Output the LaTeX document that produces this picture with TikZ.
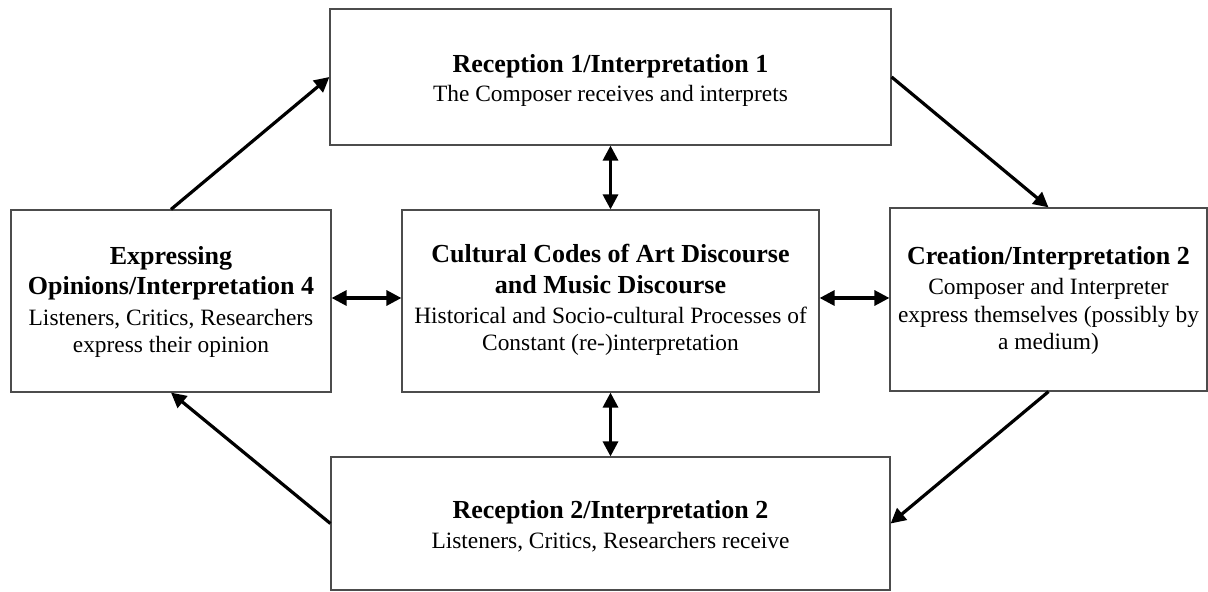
\documentclass[tikz,border=0pt]{standalone}
\usepackage{fontspec}
\setmainfont{Liberation Serif}
\usetikzlibrary{arrows.meta,calc}
% headings are set larger and bold, the descriptions smaller
\newcommand{\hd}[1]{{\fontsize{13}{15}\selectfont\bfseries #1}}
\begin{document}
\begin{tikzpicture}[x=0.5pt,y=-0.5pt,
  stage/.style={draw=black!70, line width=0.6pt, fill=white, inner sep=0pt},
  txt/.style={align=center, font=\fontsize{11.7}{13.6}\selectfont, inner sep=0pt},
  flow/.style={line width=1.6pt, -{Triangle[length=7.5pt,width=7.5pt]}},
  link/.style={line width=1.6pt, {Triangle[length=7.5pt,width=7.5pt]}-{Triangle[length=7.5pt,width=7.5pt]}}]
  \useasboundingbox (0,0) rectangle (1208,592);

  % the five stages of the cycle
  \node[stage, minimum width=280.5pt, minimum height=68pt]   (top)    at (610.5,77)    {};
  \node[stage, minimum width=160pt,   minimum height=91pt]   (left)   at (171,301)     {};
  \node[stage, minimum width=208.5pt, minimum height=91pt]   (center) at (610.5,301)   {};
  \node[stage, minimum width=158.5pt, minimum height=91.5pt] (right)  at (1048.5,299.5) {};
  \node[stage, minimum width=279.5pt, minimum height=66.5pt] (bottom) at (610.5,523.5) {};

  % texts
  \node[txt] at ($(top)+(0,3.5)$)
    {\hd{Reception 1/Interpretation 1}\\[0.5pt]The Composer receives and interprets};
  \node[txt] at ($(left)+(0,1)$)
    {\hd{Expressing}\\[1.5pt]\hd{Opinions/Interpretation 4}\\[1.5pt]Listeners, Critics, Researchers\\express their opinion};
  \node[txt] at ($(center)+(0,-1)$)
    {\hd{Cultural Codes of Art Discourse}\\[1.5pt]\hd{and Music Discourse}\\[1.5pt]Historical and Socio-cultural Processes of\\Constant (re-)interpretation};
  \node[txt] at ($(right)+(0,1)$)
    {\hd{Creation/Interpretation 2}\\[1.5pt]Composer and Interpreter\\express themselves (possibly by\\a medium)};
  \node[txt] at ($(bottom)+(0,3)$)
    {\hd{Reception 2/Interpretation 2}\\[1.5pt]Listeners, Critics, Researchers receive};

  % the cycle
  \draw[flow] (left.north) -- (top.west);
  \draw[flow] (top.east) -- (right.north);
  \draw[flow] (right.south) -- (bottom.east);
  \draw[flow] (bottom.west) -- (left.south);

  % exchanges with the cultural codes
  \draw[link] (top.south) -- (center.north);
  \draw[link] (center.south) -- (bottom.north);
  \draw[link] (left.east |- 0,298) -- (center.west |- 0,298);
  \draw[link] (center.east |- 0,298) -- (right.west |- 0,298);
\end{tikzpicture}
\end{document}
